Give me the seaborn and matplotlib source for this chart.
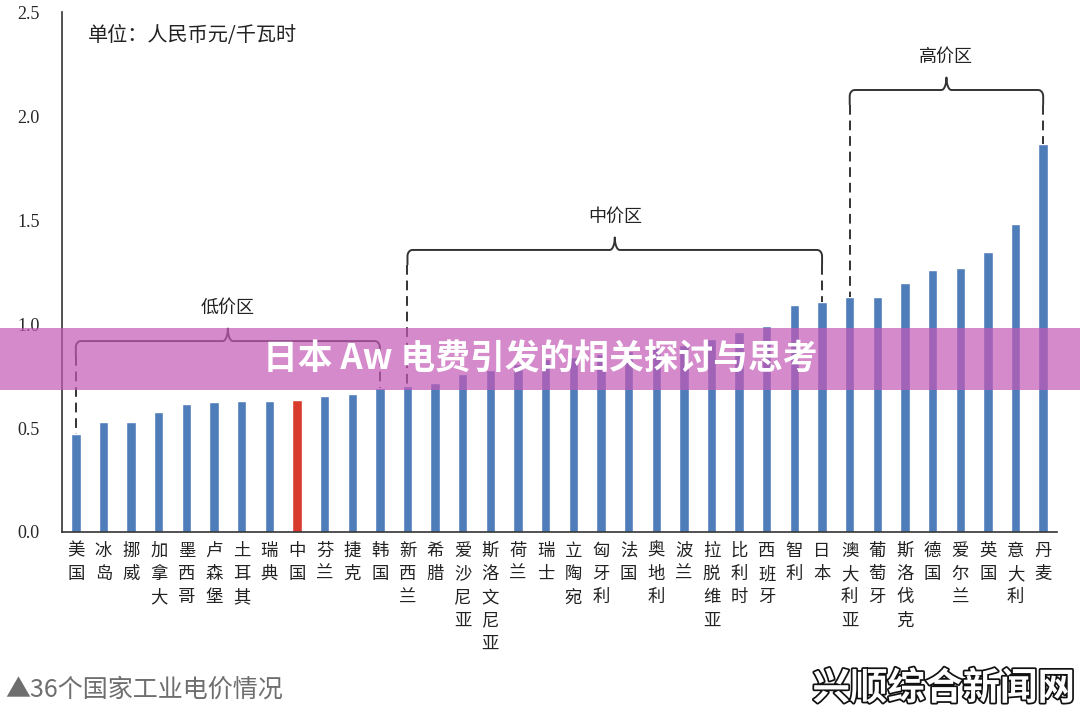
import numpy as np
import pandas as pd
import seaborn as sns
import matplotlib.pyplot as plt
import matplotlib.patheffects as pe
from matplotlib.ticker import FixedLocator

# 36 countries, industrial electricity price (RMB / kWh)
countries = ["美国", "冰岛", "挪威", "加拿大", "墨西哥", "卢森堡", "土耳其", "瑞典", "中国",
             "芬兰", "捷克", "韩国", "新西兰", "希腊", "爱沙尼亚", "斯洛文尼亚", "荷兰", "瑞士",
             "立陶宛", "匈牙利", "法国", "奥地利", "波兰", "拉脱维亚", "比利时", "西班牙", "智利",
             "日本", "澳大利亚", "葡萄牙", "斯洛伐克", "德国", "爱尔兰", "英国", "意大利", "丹麦"]
prices = [0.47, 0.527, 0.527, 0.577, 0.614, 0.624, 0.628, 0.63, 0.635,
          0.655, 0.663, 0.69, 0.70, 0.718, 0.76, 0.78, 0.81, 0.83,
          0.84, 0.855, 0.87, 0.885, 0.90, 0.928, 0.96, 0.99, 1.093,
          1.105, 1.128, 1.128, 1.195, 1.258, 1.268, 1.345, 1.482, 1.864]
highlight = "中国"

# price zones: (label, first country, last country)
zones = [("低价区", "美国", "韩国"), ("中价区", "新西兰", "日本"), ("高价区", "澳大利亚", "丹麦")]
zone_levels = [0.918, 1.356, 2.125]

y_ticks = [0.0, 0.5, 1.0, 1.5, 2.0, 2.5]

df = pd.DataFrame({"country": countries, "price": prices})
colors = ["#d83a2c" if c == highlight else "#4f7dba" for c in countries]

sns.set_style("white")
plt.rcParams["font.family"] = ["Noto Sans CJK SC", "DejaVu Sans"]

fig = plt.figure(figsize=(10.8, 7.18), dpi=100)
ax = fig.add_axes([62 / 1080, 1 - 532 / 718, 995 / 1080, 520 / 718])

sns.barplot(data=df, x="country", y="price", hue="country", palette=colors,
            legend=False, width=0.34, saturation=1, ax=ax)

ax.set_xlim(-0.5, len(countries) - 0.5)
ax.set_ylim(0, 2.5)
ax.set_xlabel("")
ax.set_ylabel("")
for s in ["top", "right"]:
    ax.spines[s].set_visible(False)
for s in ["left", "bottom"]:
    ax.spines[s].set_color("#333333")
    ax.spines[s].set_linewidth(1.2)

ax.set_yticks(y_ticks)
ax.set_yticklabels([f"{v:.1f}" for v in y_ticks], family="Liberation Serif", fontsize=13)
ax.tick_params(axis="y", direction="in", length=4, pad=16, color="#333333")

ax.set_xticks(range(len(countries)))
ax.set_xticklabels(["\n".join(c) for c in countries], fontsize=12.5, linespacing=1.38,
                   va="top", color="#222222")
ax.tick_params(axis="x", which="major", length=0, pad=7)
ax.xaxis.set_minor_locator(FixedLocator(np.arange(-0.5, len(countries), 1.0)))
ax.tick_params(axis="x", which="minor", direction="in", length=5, color="#333333")


def brace(x0, x1, y, tip=0.06, hook=0.07, rx=0.18, ry=0.03):
    t = np.linspace(0, np.pi / 2, 12)
    xc = (x0 + x1) / 2
    xs, ys = [x0], [y - hook]
    xs += list(x0 + rx - rx * np.cos(t)); ys += list(y - ry + ry * np.sin(t))
    xs += list(xc - rx + rx * np.sin(t)); ys += list(y + tip * (1 - np.cos(t)))
    xs += list(xc + rx - rx * np.cos(t)); ys += list(y + tip - tip * np.sin(t))
    xs += list(x1 - rx + rx * np.sin(t)); ys += list(y - ry + ry * np.cos(t))
    xs += [x1]; ys += [y - hook]
    return xs, ys


for (label, first, last), level in zip(zones, zone_levels):
    i0, i1 = countries.index(first), countries.index(last)
    bx, by = brace(i0, i1, level)
    ax.plot(bx, by, color="#333333", lw=1.4, clip_on=False)
    for i in (i0, i1):
        ax.plot([i, i], [level - 0.07, prices[i]], color="#333333", lw=1.4,
                linestyle=(0, (5, 3)), clip_on=False)
    ax.text((i0 + i1) / 2, level + 0.16, label, ha="center", va="center",
            fontsize=13, color="#222222")

fig.text(88 / 1080, 1 - 36 / 718, "单位：人民币元/千瓦时", ha="left", va="center",
         fontsize=14.5, color="#222222")

# overlay banner and captions
fig.patches.append(plt.Rectangle((0, 1 - 390 / 718), 1, 62 / 718, transform=fig.transFigure,
                                 facecolor="#c459b6", alpha=0.7, edgecolor="none", zorder=5))
fig.text(0.5, 1 - 359 / 718, "日本 Aw 电费引发的相关探讨与思考", ha="center", va="center",
         fontsize=25, fontweight="heavy", color="white", zorder=6)
fig.text(5 / 1080, 1 - 690 / 718, "▲36个国家工业电价情况", ha="left", va="center",
         fontsize=18, color="#6e6e6e", family=["Noto Sans CJK SC", "DejaVu Sans"])
fig.text(1075 / 1080, 1 - 688 / 718, "兴顺综合新闻网", ha="right", va="center",
         fontsize=27, fontweight="bold", color="white",
         path_effects=[pe.withStroke(linewidth=2.5, foreground="#111111")])

fig.savefig("out.png", dpi=100, facecolor="white")
